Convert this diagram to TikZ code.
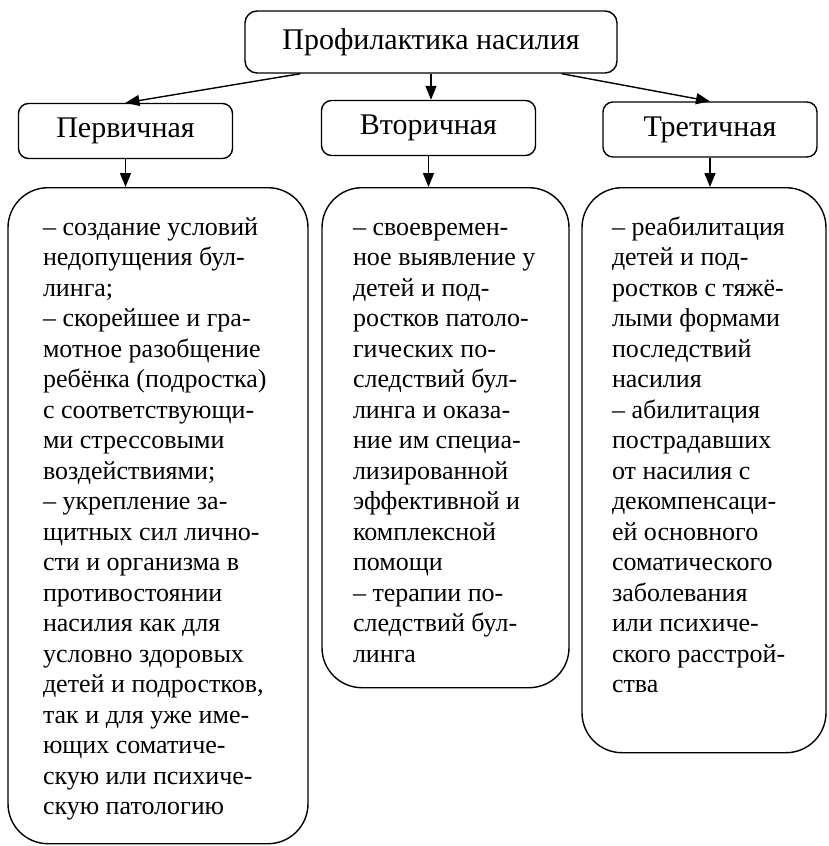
\documentclass[tikz,border=0pt]{standalone}
\usepackage{fontspec}
\setmainfont{Liberation Serif}
\usetikzlibrary{arrows.meta}
\usetikzlibrary{calc}

\newcommand{\colbox}[3]{\parbox[t][#1][t]{#2}{\begin{tabular}[t]{@{}l@{}}#3\end{tabular}}}

\begin{document}
\begin{tikzpicture}[x=1pt, y=-1pt, line width=1.4pt, >={Triangle[length=14pt, width=11pt]},
  main/.style = {draw, rounded corners=10pt, minimum width=214pt, minimum height=55pt, font=\fontsize{30}{36}\selectfont},
  list/.style = {draw, rounded corners=40pt, anchor=north, inner ysep=26pt, font=\fontsize{26}{30.5}\selectfont}]
  \useasboundingbox (0,0) rectangle (828,846);
  \node[main, minimum width=372pt, minimum height=62pt, rounded corners=12pt] (1) at (431,42) {Профилактика насилия};
  \node[main] (2) at (125.5,131) {Первичная};
  \node[main] (3) at (428.5,128) {Вторичная};
  \node[main] (4) at (710,129.5) {Третичная};
  \node[list, inner xsep=35pt] (5) at (158,187) {\colbox{604pt}{230pt}{%
    – создание условий\\ недопущения бул-\\ линга;\\ – скорейшее и гра-\\ мотное разобщение\\
    ребёнка (подростка)\\ с соответствующи-\\ ми стрессовыми\\ воздействиями;\\ – укрепление за-\\
    щитных сил лично-\\ сти и организма в\\ противостоянии\\ насилия как для\\ условно здоровых\\
    детей и подростков,\\ так и для уже име-\\ ющих соматиче-\\ скую или психиче-\\ скую патологию}};
  \node[list, inner xsep=31pt] (6) at (445.5,187) {\colbox{448pt}{185pt}{%
    – своевремен-\\ ное выявление у\\ детей и под-\\ ростков патоло-\\ гических по-\\
    следствий бул-\\ линга и оказа-\\ ние им специа-\\ лизированной\\ эффективной и\\
    комплексной\\ помощи\\ – терапии по-\\ следствий бул-\\ линга}};
  \node[list, inner xsep=30pt] (7) at (704,187) {\colbox{513pt}{184pt}{%
    – реабилитация\\ детей и под-\\ ростков с тяжё-\\ лыми формами\\ последствий\\
    насилия\\ – абилитация\\ пострадавших\\ от насилия с\\ декомпенсаци-\\
    ей основного\\ соматического\\ заболевания\\ или психиче-\\ ского расстрой-\\ ства}};
  \draw[->] ($(1.south west)!0.15!(1.south east)$) -- (2.north);
  \draw[->] (1.south) -- (1.south |- 3.north);
  \draw[->] ($(1.south west)!0.85!(1.south east)$) -- (4.north);
  \draw[->] (2.south) -- (2.south |- 5.north);
  \draw[->] (3.south) -- (3.south |- 6.north);
  \draw[->] (4.south) -- (4.south |- 7.north);
\end{tikzpicture}
\end{document}
